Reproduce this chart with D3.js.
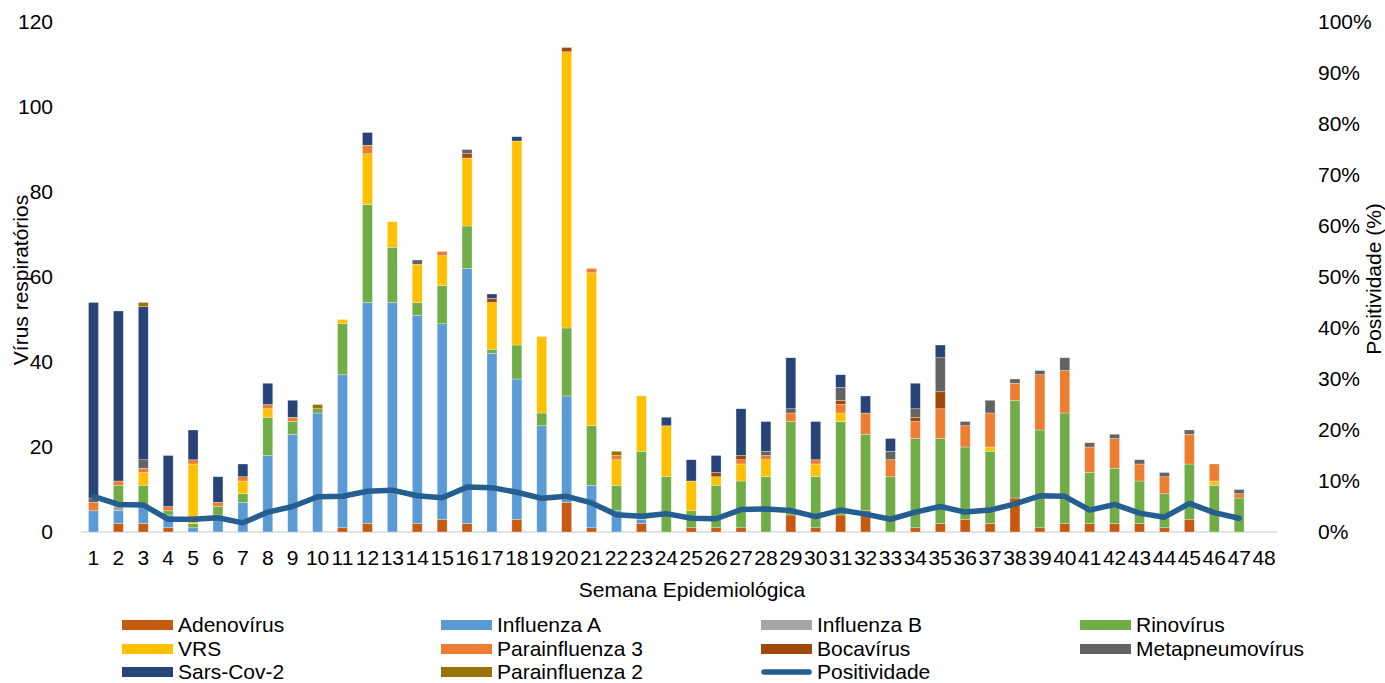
<!DOCTYPE html>
<html>
<head>
<meta charset="utf-8">
<script src="https://cdn.jsdelivr.net/npm/d3@7"></script>
<style>
  html, body { margin: 0; padding: 0; background: #fff; }
  svg text { font-family: "Liberation Sans", Arial, sans-serif; fill: #000; }
</style>
</head>
<body>
<svg id="chart" width="1385" height="683"></svg>
<script>
const weeks = d3.range(1, 49).map(String);
const seriesNames = ["Adenovírus","Influenza A","Influenza B","Rinovírus","VRS","Parainfluenza 3","Bocavírus","Metapneumovírus","Sars-Cov-2","Parainfluenza 2"];
const seriesColors = ["#C55A11","#5B9BD5","#A5A5A5","#70AD47","#FFC000","#ED7D31","#9E480E","#636363","#264478","#997300"];

// values per week 1..48
const adenovirus   = [0,2,2,1,0,0,0,0,0,0,1,2,0,2,3,2,0,3,0,7,1,0,2,0,1,1,1,0,4,1,4,5,0,1,2,3,2,8,1,2,2,2,2,1,3,0,0,0];
const influenzaA   = [5,3,4,3,1,4,7,18,23,28,36,52,54,49,46,60,42,33,25,25,10,5,1,0,0,0,0,0,0,0,0,0,0,0,0,0,0,0,0,0,0,0,0,0,0,0,0,0];
const influenzaB   = [0,1,0,0,0,0,0,0,0,0,0,0,0,0,0,0,0,0,0,0,0,0,0,0,0,0,0,0,0,0,0,0,0,0,0,0,0,0,0,0,0,0,0,0,0,0,0,0];
const rinovirus    = [0,5,5,1,1,2,2,9,3,1,12,23,13,3,9,10,1,8,3,16,14,6,16,13,4,10,11,13,22,12,22,18,13,21,20,17,17,23,23,26,12,13,10,8,13,11,8,0];
const vrs          = [0,0,3,0,14,0,3,2,0,0,1,12,6,9,7,16,11,48,18,65,36,6,13,12,7,2,4,4,0,3,2,0,0,0,0,0,1,0,0,0,0,0,0,0,0,1,0,0];
const parainfl3    = [2,1,1,1,1,1,1,1,1,0,0,2,0,0,1,0,0,0,0,0,1,1,0,0,0,0,1,1,2,1,2,5,4,4,7,5,8,4,13,10,6,7,4,4,7,4,1,0];
const bocavirus    = [0,0,0,0,0,0,0,0,0,0,0,0,0,0,0,1,1,0,0,1,0,0,0,0,0,1,1,0,0,0,1,0,0,1,4,0,0,0,0,0,0,0,0,0,0,0,0,0];
const metapneumo   = [1,0,2,0,0,0,0,0,0,0,0,0,0,1,0,1,0,0,0,0,0,0,0,0,0,0,0,1,1,0,3,0,2,2,8,1,3,1,1,3,1,1,1,1,1,0,1,0];
const sarsCov2     = [46,40,36,12,7,6,3,5,4,0,0,3,0,0,0,0,1,1,0,0,0,0,0,2,5,4,11,7,12,9,3,4,3,6,3,0,0,0,0,0,0,0,0,0,0,0,0,0];
const parainfl2    = [0,0,1,0,0,0,0,0,0,1,0,0,0,0,0,0,0,0,0,0,0,1,0,0,0,0,0,0,0,0,0,0,0,0,0,0,0,0,0,0,0,0,0,0,0,0,0,0];
// Positividade (%) weeks 1..47
const positividade = [7.0,5.4,5.3,2.5,2.5,2.8,1.8,3.9,5.0,6.9,7.0,8.0,8.2,7.1,6.7,8.8,8.7,7.8,6.6,7.0,5.7,3.4,3.1,3.6,2.7,2.6,4.4,4.5,4.2,3.0,4.3,3.5,2.5,3.9,5.0,3.9,4.3,5.5,7.1,7.0,4.3,5.4,3.7,2.9,5.6,3.8,2.7];
const leftTicks = [0,20,40,60,80,100,120];
const rightTicks = [0,0.1,0.2,0.3,0.4,0.5,0.6,0.7,0.8,0.9,1.0];

const seriesValues = [adenovirus,influenzaA,influenzaB,rinovirus,vrs,parainfl3,bocavirus,metapneumo,sarsCov2,parainfl2];

const table = weeks.map((w, i) => {
  const row = { week: w };
  seriesNames.forEach((n, k) => row[n] = seriesValues[k][i]);
  return row;
});

const svg = d3.select("#chart");
const FS = 21;
const x = d3.scaleBand().domain(weeks).range([81, 1276.5]).paddingInner(0.6).paddingOuter(0.3);
const y = d3.scaleLinear().domain([0, 120]).range([532, 22]);
const y2 = d3.scaleLinear().domain([0, 1]).range([532, 22]);

const stack = d3.stack().keys(seriesNames)(table);
const color = d3.scaleOrdinal().domain(seriesNames).range(seriesColors);

// axis line
svg.append("line").attr("x1", 81).attr("x2", 1277).attr("y1", y(0)).attr("y2", y(0))
  .attr("stroke", "#D9D9D9").attr("stroke-width", 1.5);

// bars
svg.append("g").selectAll("g").data(stack).join("g")
  .attr("fill", d => color(d.key))
  .selectAll("rect").data(d => d.filter(s => s[1] - s[0] > 0)).join("rect")
  .attr("x", d => x(d.data.week))
  .attr("width", x.bandwidth())
  .attr("y", d => y(d[1]))
  .attr("height", d => y(d[0]) - y(d[1]))
  .attr("stroke", "#ffffff").attr("stroke-opacity", 0.5).attr("stroke-width", 0.6);

// line
const line = d3.line().x((d, i) => x(weeks[i]) + x.bandwidth() / 2).y(d => y2(d / 100));
svg.append("path").datum(positividade).attr("d", line)
  .attr("fill", "none").attr("stroke", "#255E91").attr("stroke-width", 5.5)
  .attr("stroke-linejoin", "round").attr("stroke-linecap", "round");

// left axis
const ax = d3.axisLeft(y).tickValues(leftTicks).tickSize(0).tickPadding(0);
const gl = svg.append("g").attr("transform", "translate(53,0)").call(ax);
gl.select(".domain").remove();
gl.selectAll("text").attr("font-size", FS).attr("font-family", "Liberation Sans, Arial, sans-serif").attr("fill", "#000");

// right axis
const ax2 = d3.axisRight(y2).tickValues(rightTicks).tickFormat(d3.format(".0%")).tickSize(0).tickPadding(0);
const gr = svg.append("g").attr("transform", "translate(1318,0)").call(ax2);
gr.select(".domain").remove();
gr.selectAll("text").attr("font-size", FS).attr("font-family", "Liberation Sans, Arial, sans-serif").attr("fill", "#000");

// bottom axis
const axb = d3.axisBottom(x).tickSize(0).tickPadding(0);
const gb = svg.append("g").attr("transform", "translate(0,550)").call(axb);
gb.select(".domain").remove();
gb.selectAll("text").attr("font-size", FS).attr("font-family", "Liberation Sans, Arial, sans-serif").attr("fill", "#000").attr("dy", "0.71em");

// axis titles
svg.append("text").attr("x", 692).attr("y", 597).attr("text-anchor", "middle").attr("font-size", FS)
  .text("Semana Epidemiológica");
svg.append("text").attr("transform", "translate(21,280) rotate(-90)").attr("text-anchor", "middle")
  .attr("dy", "0.35em").attr("font-size", FS).text("Vírus respiratórios");
svg.append("text").attr("transform", "translate(1374,279) rotate(-90)").attr("text-anchor", "middle")
  .attr("dy", "0.35em").attr("font-size", FS).text("Positividade (%)");

// legend
const legendItems = seriesNames.map((n, i) => ({ name: n, color: seriesColors[i], type: "rect" }))
  .concat([{ name: "Positividade", color: "#255E91", type: "line" }]);
const colX = [122, 441, 761, 1080];
const rowY = [625, 649, 672];
const lg = svg.append("g");
legendItems.forEach((d, i) => {
  const cx = colX[i % 4], cy = rowY[Math.floor(i / 4)];
  if (d.type === "rect") {
    lg.append("rect").attr("x", cx).attr("y", cy - 5).attr("width", 51).attr("height", 10).attr("fill", d.color);
  } else {
    lg.append("line").attr("x1", cx + 3).attr("x2", cx + 48).attr("y1", cy).attr("y2", cy)
      .attr("stroke", d.color).attr("stroke-width", 5.5).attr("stroke-linecap", "round");
  }
  lg.append("text").attr("x", cx + 56).attr("y", cy).attr("dy", "0.35em").attr("font-size", FS).text(d.name);
});
</script>
</body>
</html>
